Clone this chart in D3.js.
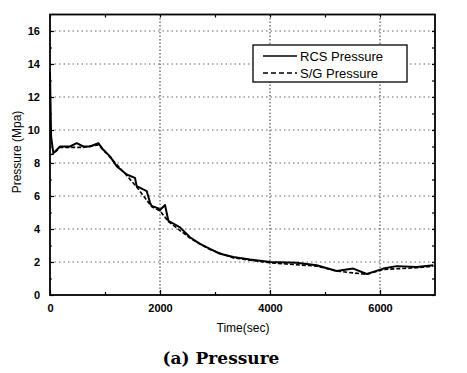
<!DOCTYPE html>
<html>
<head>
<meta charset="utf-8">
<script src="https://cdn.jsdelivr.net/npm/d3@7"></script>
<style>
  body { margin: 0; background: #fff; }
  svg text { font-family: "Liberation Sans", Arial, sans-serif; }
</style>
</head>
<body>
<div id="chart"></div>
<script>
// Data (time in sec, pressure in MPa)
const rcsTime = [0, 20, 61, 182, 364, 485, 606, 727, 879, 970, 1091, 1212, 1394, 1545, 1576, 1758, 1818, 1848, 1970, 2000, 2091, 2152, 2364, 2545, 2727, 2909, 3091, 3333, 3636, 4000, 4485, 4848, 5212, 5515, 5758, 5879, 6061, 6303, 6667, 6970];
const rcsPressure = [13.5, 9.6, 8.6, 9.0, 9.0, 9.2, 9.0, 9.0, 9.2, 8.8, 8.4, 7.8, 7.3, 7.1, 6.6, 6.3, 5.6, 5.4, 5.25, 5.15, 5.45, 4.5, 4.1, 3.5, 3.1, 2.8, 2.5, 2.3, 2.15, 2.0, 1.95, 1.8, 1.45, 1.6, 1.27, 1.4, 1.6, 1.75, 1.7, 1.8];
const sgTime = [0, 61, 182, 364, 606, 879, 1091, 1394, 1576, 1848, 2000, 2152, 2545, 2909, 3333, 4000, 4848, 5212, 5758, 6061, 6667, 6970];
const sgPressure = [8.5, 8.55, 8.95, 8.95, 8.95, 9.1, 8.35, 7.25, 6.55, 5.35, 5.1, 4.45, 3.45, 2.75, 2.25, 1.95, 1.75, 1.45, 1.25, 1.55, 1.65, 1.75];
const xTicks = [0, 2000, 4000, 6000];
const xMinor = [1000, 3000, 5000];
const yTicks = [0, 2, 4, 6, 8, 10, 12, 14, 16];
const yMinor = [1, 3, 5, 7, 9, 11, 13, 15];
const seriesNames = ['RCS Pressure', 'S/G Pressure'];

const width = 467, height = 373;
const margin = { top: 14.5, right: 32, bottom: 78, left: 50 };
const innerW = 435 - margin.left;
const innerH = 295 - margin.top;

const svg = d3.select('#chart').append('svg')
    .attr('width', width)
    .attr('height', height);

const g = svg.append('g')
    .attr('transform', `translate(${margin.left},${margin.top})`);

const x = d3.scaleLinear().domain([0, 7000]).range([0, innerW]);
const y = d3.scaleLinear().domain([0, 17]).range([innerH, 0]);

// Grid lines
g.selectAll('.hgrid')
    .data(yTicks.filter(d => d > 0))
    .enter().append('line')
    .attr('x1', 0).attr('x2', innerW)
    .attr('y1', d => y(d)).attr('y2', d => y(d))
    .attr('stroke', '#555')
    .attr('stroke-width', 0.9)
    .attr('stroke-dasharray', '1.5,3');

g.selectAll('.vgrid')
    .data(xTicks.filter(d => d > 0))
    .enter().append('line')
    .attr('x1', d => x(d)).attr('x2', d => x(d))
    .attr('y1', 0).attr('y2', innerH)
    .attr('stroke', '#333')
    .attr('stroke-width', 1)
    .attr('stroke-dasharray', '1.5,2');

// Axes (ticks pointing inward)
const axisStyle = sel => {
    sel.select('.domain').remove();
    sel.selectAll('line').attr('stroke', '#000').attr('stroke-width', 1.2);
};

g.append('g')
    .attr('transform', `translate(0,${innerH})`)
    .call(d3.axisBottom(x).tickValues(xTicks).tickSize(-5).tickPadding(9).tickFormat(d3.format('d')))
    .call(axisStyle)
    .selectAll('text')
    .attr('font-size', 11).attr('font-weight', 'bold').attr('fill', '#000');

g.append('g')
    .attr('transform', `translate(0,${innerH})`)
    .call(d3.axisBottom(x).tickValues(xMinor).tickSize(-3).tickFormat(''))
    .call(axisStyle);

g.append('g')
    .call(d3.axisTop(x).tickValues(xTicks.concat(xMinor)).tickSize(-3).tickFormat(''))
    .call(axisStyle);

g.append('g')
    .call(d3.axisLeft(y).tickValues(yTicks).tickSize(-4).tickPadding(10).tickFormat(d3.format('d')))
    .call(axisStyle)
    .selectAll('text')
    .attr('font-size', 11).attr('font-weight', 'bold').attr('fill', '#000');

g.append('g')
    .call(d3.axisLeft(y).tickValues(yMinor).tickSize(-2).tickFormat(''))
    .call(axisStyle);

g.append('g')
    .attr('transform', `translate(${innerW},0)`)
    .call(d3.axisRight(y).tickValues(yTicks.concat(yMinor)).tickSize(-3).tickFormat(''))
    .call(axisStyle);

// Lines
const line = d3.line()
    .x(d => x(d[0]))
    .y(d => y(d[1]));

g.append('path')
    .datum(sgTime.map((t, i) => [t, sgPressure[i]]))
    .attr('d', line)
    .attr('fill', 'none')
    .attr('stroke', '#000')
    .attr('stroke-width', 1.6)
    .attr('stroke-dasharray', '4,2');

g.append('path')
    .datum(rcsTime.map((t, i) => [t, rcsPressure[i]]))
    .attr('d', line)
    .attr('fill', 'none')
    .attr('stroke', '#000')
    .attr('stroke-width', 2)
    .attr('stroke-linejoin', 'round');

// Frame
g.append('rect')
    .attr('width', innerW).attr('height', innerH)
    .attr('fill', 'none')
    .attr('stroke', '#000')
    .attr('stroke-width', 1.8);

// Legend
const legend = svg.append('g').attr('transform', 'translate(253,45)');
legend.append('rect')
    .attr('width', 154).attr('height', 37)
    .attr('fill', '#fff')
    .attr('stroke', '#000')
    .attr('stroke-width', 1.3);
seriesNames.forEach((name, i) => {
    const ly = 11 + i * 17;
    legend.append('line')
        .attr('x1', 10).attr('x2', 44)
        .attr('y1', ly).attr('y2', ly)
        .attr('stroke', '#000')
        .attr('stroke-width', 1.6)
        .attr('stroke-dasharray', i === 0 ? null : '5,3');
    legend.append('text')
        .attr('x', 47).attr('y', ly + 4.5)
        .attr('font-size', 13)
        .attr('fill', '#000')
        .text(name);
});

// Axis titles
svg.append('text')
    .attr('x', 243).attr('y', 332)
    .attr('text-anchor', 'middle')
    .attr('font-size', 12)
    .text('Time(sec)');

svg.append('text')
    .attr('transform', 'translate(21,152) rotate(-90)')
    .attr('text-anchor', 'middle')
    .attr('font-size', 12)
    .text('Pressure (Mpa)');

svg.append('text')
    .attr('x', 221).attr('y', 364)
    .attr('text-anchor', 'middle')
    .attr('font-size', 17)
    .attr('font-weight', 'bold')
    .style('font-family', '"DejaVu Serif", serif')
    .text('(a) Pressure');
</script>
</body>
</html>
